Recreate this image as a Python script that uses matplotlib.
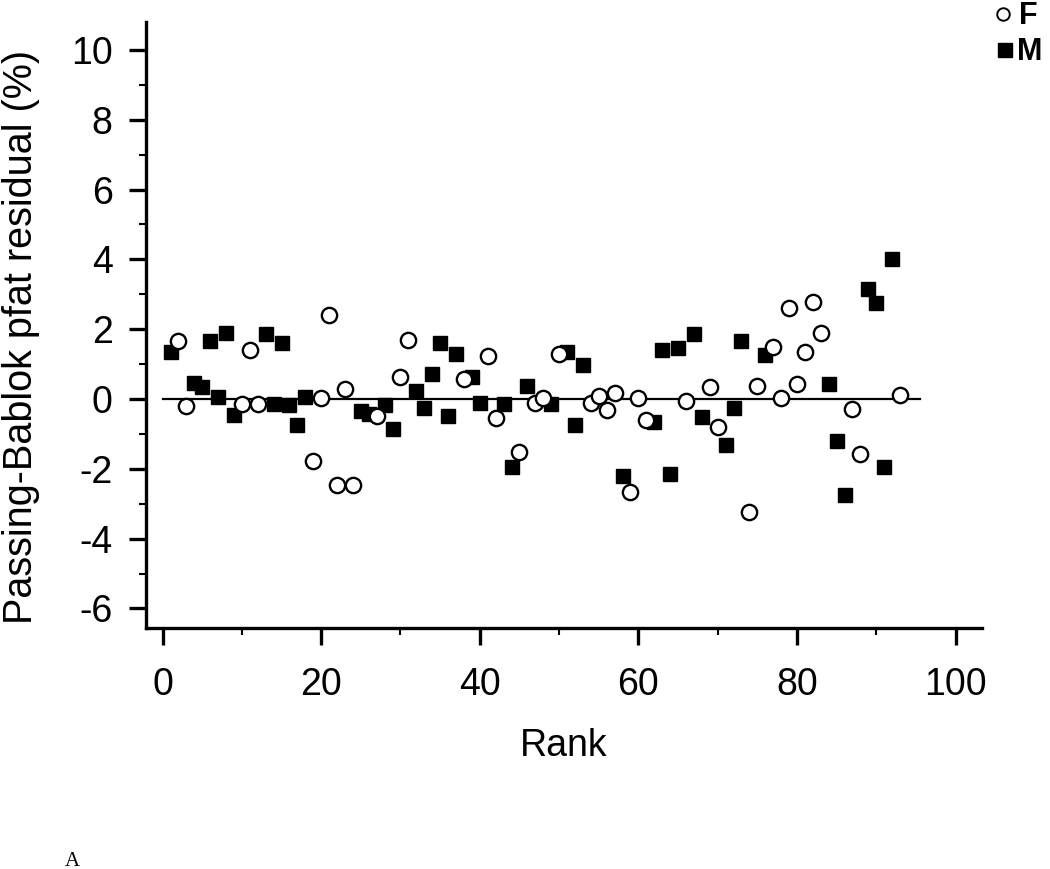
import numpy as np
import matplotlib.pyplot as plt
from matplotlib.ticker import MultipleLocator

# rank of every subject and its Passing-Bablok residual (%)
f_rank = [2, 3, 10, 11, 12, 19, 20, 21, 22, 23, 24, 27, 30, 31, 38, 41, 42, 45,
          47, 48, 50, 54, 55, 56, 57, 59, 60, 61, 66, 69, 70, 74, 75, 77, 78, 79,
          80, 81, 82, 83, 87, 88, 93]
f_resid = [1.65, -0.2, -0.15, 1.4, -0.15, -1.78, 0.03, 2.4, -2.45, 0.28, -2.45,
           -0.5, 0.62, 1.68, 0.57, 1.22, -0.55, -1.52, -0.1, 0.03, 1.28, -0.1,
           0.1, -0.32, 0.17, -2.65, 0.03, -0.6, -0.05, 0.33, -0.8, -3.25, 0.38,
           1.5, 0.03, 2.62, 0.42, 1.35, 2.77, 1.88, -0.3, -1.57, 0.12]

m_rank = [1, 4, 5, 6, 7, 8, 9, 13, 14, 15, 16, 17, 18, 25, 26, 28, 29, 32, 33,
          34, 35, 36, 37, 39, 40, 43, 44, 46, 49, 51, 52, 53, 58, 62, 63, 64, 65,
          67, 68, 71, 72, 73, 76, 84, 85, 86, 89, 90, 91, 92]
m_resid = [1.35, 0.47, 0.35, 1.65, 0.07, 1.88, -0.45, 1.85, -0.15, 1.6, -0.18,
           -0.75, 0.05, -0.35, -0.42, -0.18, -0.85, 0.22, -0.25, 0.73, 1.6, -0.48,
           1.3, 0.62, -0.12, -0.15, -1.95, 0.38, -0.15, 1.35, -0.75, 0.97, -2.2,
           -0.65, 1.4, -2.15, 1.47, 1.85, -0.52, -1.32, -0.25, 1.65, 1.25, 0.43,
           -1.2, -2.75, 3.14, 2.74, -1.95, 4.0]

zero_line_x = [0, 95.5]
y_ticks = np.arange(-6, 11, 2)

plt.rcParams['font.family'] = ['Liberation Sans', 'DejaVu Sans']
plt.rcParams['axes.unicode_minus'] = False

fig = plt.figure(figsize=(10.5, 8.69), dpi=100)
ax = fig.add_axes([0.139, 0.2773, 0.796, 0.6974])

ax.plot(zero_line_x, [0, 0], color='black', lw=1.6, zorder=1)
ax.plot(f_rank, f_resid, 'o', ms=11, mfc='white', mec='black', mew=1.7,
        ls='none', zorder=3)
ax.plot(m_rank, m_resid, 's', ms=10.5, mfc='black', mec='black',
        ls='none', zorder=2)

ax.set_xlim(-2.1, 103.3)
ax.set_ylim(-6.56, 10.8)
ax.xaxis.set_major_locator(MultipleLocator(20))
ax.xaxis.set_minor_locator(MultipleLocator(10))
ax.set_yticks(y_ticks)
ax.yaxis.set_minor_locator(MultipleLocator(1))

for s in ['top', 'right']:
    ax.spines[s].set_visible(False)
for s in ['left', 'bottom']:
    ax.spines[s].set_linewidth(2.4)

ax.tick_params(which='major', direction='out', length=12, width=2.4,
               labelsize=27)
ax.tick_params(axis='x', which='major', pad=16)
ax.tick_params(axis='y', which='major', pad=12)
ax.tick_params(which='minor', direction='out', length=5, width=1.5)

ax.set_xlabel('Rank', fontsize=27, labelpad=18)
ax.set_ylabel('Passing-Bablok pfat residual (%)', fontsize=28.5)
ax.yaxis.set_label_coords(-0.127, 0.48)

# legend placed outside the axes, top right (pixel overlay)
lax = fig.add_axes([0, 0, 1, 1])
lax.set_axis_off()
lax.set_xlim(0, 1050)
lax.set_ylim(869, 0)
lax.plot([1003], [14], 'o', ms=9, mfc='white', mec='black', mew=1.4)
lax.plot([1005], [50], 's', ms=10, color='black')
lax.text(1019, 16, 'F', fontsize=22, fontweight='bold', va='center')
lax.text(1017, 52, 'M', fontsize=22, fontweight='bold', va='center')

fig.text(0.062, 0.004, 'A', fontsize=15, family='Liberation Serif')

fig.savefig('out.png', dpi=100)
